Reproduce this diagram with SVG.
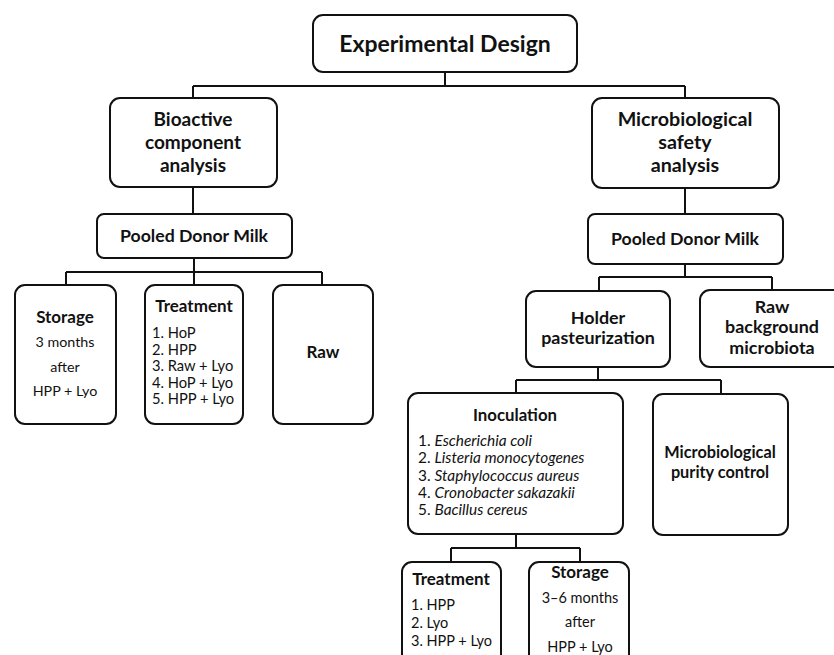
<svg xmlns="http://www.w3.org/2000/svg" width="834" height="655" viewBox="0 0 834 655">
<style>
.box{fill:#fff;stroke:#111;stroke-width:2}
.con{fill:none;stroke:#111;stroke-width:2}
text{font-family:Lato,"Liberation Sans",sans-serif;fill:#111}
.b{font-weight:bold}
.c{text-anchor:middle}
.it{font-style:italic}
</style>
<rect width="834" height="655" fill="#fff"/>
<g id="connectors">
<path class="con" d="M445 72V86M193 86H685M193 86V98M685 86V98"/>
<path class="con" d="M193 187V214M194 258V272M66 272H322M66 272V285M194 272V285M322 272V285"/>
<path class="con" d="M685 188V214M685 264V277M599 277H772M599 277V291M772 277V290"/>
<path class="con" d="M598 367V380M516 380H721M516 380V393M721 380V394"/>
<path class="con" d="M516 534V548M451 548H580M451 548V562M580 548V562"/>
</g>
<g id="n-top"><rect class="box" x="313" y="15" width="264" height="57" rx="10"/>
<text class="b c" x="445" y="52" font-size="23">Experimental Design</text></g>
<g id="n-bioactive"><rect class="box" x="110" y="98" width="167" height="89" rx="10"/>
<text class="b c" x="193" y="126" font-size="19">Bioactive</text>
<text class="b c" x="193" y="149" font-size="19">component</text>
<text class="b c" x="193" y="172" font-size="19">analysis</text></g>
<g id="n-pooled-left"><rect class="box" x="97" y="214" width="195" height="44" rx="7"/>
<text class="b c" x="194" y="242" font-size="17.7">Pooled Donor Milk</text></g>
<g id="n-storage-left"><rect class="box" x="15" y="285" width="101" height="139" rx="10"/>
<text class="b c" x="65" y="323" font-size="17">Storage</text>
<text class="c" x="65" y="347" font-size="14.3">3 months</text>
<text class="c" x="65" y="372" font-size="14.3">after</text>
<text class="c" x="65" y="396" font-size="14.3">HPP + Lyo</text></g>
<g id="n-treatment-left"><rect class="box" x="145" y="285" width="98" height="139" rx="10"/>
<text class="b c" x="194" y="312" font-size="17">Treatment</text>
<text x="152" y="338" font-size="14.7">1. HoP</text>
<text x="152" y="354.5" font-size="14.7">2. HPP</text>
<text x="152" y="371" font-size="14.7">3. Raw + Lyo</text>
<text x="152" y="387.5" font-size="14.7">4. HoP + Lyo</text>
<text x="152" y="404" font-size="14.7">5. HPP + Lyo</text></g>
<g id="n-raw"><rect class="box" x="273" y="285" width="100" height="139" rx="10"/>
<text class="b c" x="323" y="358" font-size="17">Raw</text></g>
<g id="n-microbio"><rect class="box" x="592" y="98" width="187" height="90" rx="10"/>
<text class="b c" x="685" y="126" font-size="19.7">Microbiological</text>
<text class="b c" x="685" y="149" font-size="19.7">safety</text>
<text class="b c" x="685" y="172" font-size="19.7">analysis</text></g>
<g id="n-pooled-right"><rect class="box" x="588" y="214" width="195" height="50" rx="7"/>
<text class="b c" x="685" y="245" font-size="17.7">Pooled Donor Milk</text></g>
<g id="n-holder"><rect class="box" x="526" y="291" width="144" height="76" rx="10"/>
<text class="b c" x="598" y="324" font-size="17.9">Holder</text>
<text class="b c" x="598" y="344" font-size="17.9">pasteurization</text></g>
<g id="n-rawbg"><rect class="box" x="700" y="290" width="145" height="77" rx="10"/>
<text class="b c" x="772" y="313" font-size="17.9">Raw</text>
<text class="b c" x="772" y="333" font-size="17.9">background</text>
<text class="b c" x="772" y="354" font-size="17.9">microbiota</text></g>
<g id="n-inoculation"><rect class="box" x="408" y="393" width="215" height="141" rx="10"/>
<text class="b c" x="515" y="421" font-size="16.8">Inoculation</text>
<text x="418" y="446" font-size="15.4">1. <tspan class="it">Escherichia coli</tspan></text>
<text x="418" y="463.3" font-size="15.4">2. <tspan class="it">Listeria monocytogenes</tspan></text>
<text x="418" y="480.6" font-size="15.4">3. <tspan class="it">Staphylococcus aureus</tspan></text>
<text x="418" y="497.9" font-size="15.4">4. <tspan class="it">Cronobacter sakazakii</tspan></text>
<text x="418" y="515.2" font-size="15.4">5. <tspan class="it">Bacillus cereus</tspan></text></g>
<g id="n-purity"><rect class="box" x="653" y="394" width="135" height="141" rx="10"/>
<text class="b c" x="720" y="458" font-size="16.3">Microbiological</text>
<text class="b c" x="720" y="478" font-size="16.3">purity control</text></g>
<g id="n-treatment-bottom"><rect class="box" x="402" y="562" width="99" height="110" rx="10"/>
<text class="b c" x="451" y="585" font-size="17">Treatment</text>
<text x="411" y="610" font-size="14.5">1. HPP</text>
<text x="411" y="628" font-size="14.5">2. Lyo</text>
<text x="411" y="646" font-size="14.5">3. HPP + Lyo</text></g>
<g id="n-storage-bottom"><rect class="box" x="529" y="562" width="100" height="110" rx="10"/>
<text class="b c" x="580" y="578" font-size="17">Storage</text>
<text class="c" x="580" y="603" font-size="14.5">3–6 months</text>
<text class="c" x="580" y="627" font-size="14.5">after</text>
<text class="c" x="580" y="652" font-size="14.5">HPP + Lyo</text></g>
</svg>
